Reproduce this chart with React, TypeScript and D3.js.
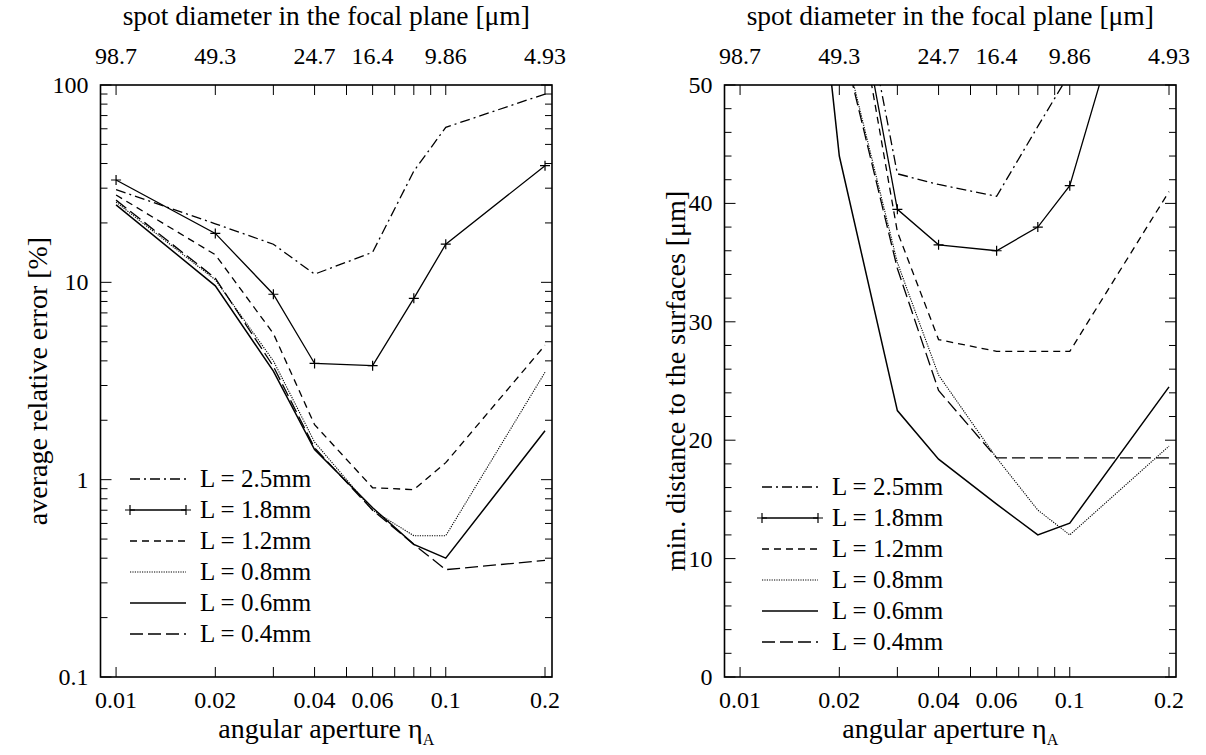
import React from "react";
import * as d3 from "d3";

// ---------- data ----------
const etas = [0.01, 0.02, 0.03, 0.04, 0.06, 0.08, 0.1, 0.2];
const seriesLabels = ["L = 2.5mm", "L = 1.8mm", "L = 1.2mm", "L = 0.8mm", "L = 0.6mm", "L = 0.4mm"];

// average relative error [%]
const err25 = [29.5, 19.8, 15.6, 11.0, 14.2, 36.6, 61, 90];
const err18 = [33, 17.7, 8.7, 3.88, 3.78, 8.3, 15.6, 39];
const err12 = [27.7, 13.8, 5.5, 1.9, 0.91, 0.89, 1.22, 4.8];
const err08 = [25.5, 10.3, 4.0, 1.55, 0.7, 0.52, 0.52, 3.5];
const err06 = [24.7, 9.6, 3.55, 1.42, 0.72, 0.47, 0.4, 1.77];
const err04 = [26.1, 10.5, 3.75, 1.45, 0.7, 0.47, 0.35, 0.39];

// min. distance to the surfaces [um]
const dist25 = [170, 68, 42.5, 41.6, 40.6, 46.5, 51, 80];
const dist18 = [160, 66, 39.5, 36.5, 36.0, 38.0, 41.5, 70];
const dist12 = [150, 65.6, 37.6, 28.5, 27.5, 27.5, 27.5, 41.0];
const dist08 = [138, 55, 35.0, 25.5, 18.5, 14.1, 12.0, 19.5];
const dist06 = [122, 44, 22.5, 18.4, 14.6, 12.0, 13.0, 24.5];
const dist04 = [140, 54.7, 34.5, 24.2, 18.5, 18.5, 18.5, 18.5];

const xTickVals = [0.01, 0.02, 0.03, 0.04, 0.05, 0.06, 0.07, 0.08, 0.09, 0.1, 0.2];
const xLabelVals = [0.01, 0.02, 0.04, 0.06, 0.1, 0.2];
const xLabels = ["0.01", "0.02", "0.04", "0.06", "0.1", "0.2"];
const topLabels = ["98.7", "49.3", "24.7", "16.4", "9.86", "4.93"];

const errMajor = [0.1, 1, 10, 100];
const errMajorLabels = ["0.1", "1", "10", "100"];
const distMajor = [0, 10, 20, 30, 40, 50];
const distMinor = [2, 4, 6, 8, 12, 14, 16, 18, 22, 24, 26, 28, 32, 34, 36, 38, 42, 44, 46, 48];

// ---------- styles ----------
const FONT = "'Liberation Serif', 'Times New Roman', serif";
const styles = [
  { dash: "10,4,2,4", w: 1.3, marker: false },
  { dash: null, w: 1.3, marker: true },
  { dash: "7,5", w: 1.3, marker: false },
  { dash: "1.2,1.2", w: 1.1, marker: false },
  { dash: null, w: 1.5, marker: false },
  { dash: "13,5", w: 1.3, marker: false },
];

const TOP = 85;
const BOTTOM = 677;
const W = 451.5;
const xDomain: [number, number] = [0.00897, 0.21];

function Plus({ x, y, s = 5 }: { x: number; y: number; s?: number }) {
  return (
    <path d={`M${x - s},${y}H${x + s}M${x},${y - s}V${y + s}`} stroke="#000" strokeWidth={1.2} fill="none" />
  );
}

function Panel(props: {
  left: number;
  yScale: any;
  series: number[][];
  yMajor: number[];
  yMajorLabels: string[];
  yMinor: number[];
  yTitle: string;
  yTitleX: number;
  legendX: number;
  legendY: number;
  id: string;
}) {
  const { left, yScale, series, yMajor, yMajorLabels, yMinor, yTitle, yTitleX, legendX, legendY, id } = props;
  const x = d3.scaleLog().domain(xDomain).range([left, left + W]);
  const right = left + W;
  const line = d3
    .line<[number, number]>()
    .x((d) => x(d[0]))
    .y((d) => yScale(d[1]));
  const cx = left + W / 2;
  const cy = (TOP + BOTTOM) / 2;
  return (
    <g>
      <defs>
        <clipPath id={id}>
          <rect x={left} y={TOP} width={W} height={BOTTOM - TOP} />
        </clipPath>
      </defs>
      {/* x ticks */}
      {xTickVals.map((v, i) => (
        <g key={"xt" + i}>
          <line x1={x(v)} x2={x(v)} y1={BOTTOM} y2={BOTTOM - 10} stroke="#000" strokeWidth={1} />
          <line x1={x(v)} x2={x(v)} y1={TOP} y2={TOP + 10} stroke="#000" strokeWidth={1} />
        </g>
      ))}
      {/* y ticks */}
      {yMajor.map((v, i) => (
        <g key={"ym" + i}>
          <line x1={left} x2={left + 11} y1={yScale(v)} y2={yScale(v)} stroke="#000" strokeWidth={1} />
          <line x1={right} x2={right - 11} y1={yScale(v)} y2={yScale(v)} stroke="#000" strokeWidth={1} />
        </g>
      ))}
      {yMinor.map((v, i) => (
        <g key={"yn" + i}>
          <line x1={left} x2={left + 7} y1={yScale(v)} y2={yScale(v)} stroke="#000" strokeWidth={1} />
          <line x1={right} x2={right - 7} y1={yScale(v)} y2={yScale(v)} stroke="#000" strokeWidth={1} />
        </g>
      ))}
      {/* data */}
      <g clipPath={`url(#${id})`}>
        {series.map((vals, si) => {
          const pts = etas.map((e, i) => [e, vals[i]] as [number, number]);
          const st = styles[si];
          return (
            <g key={"s" + si}>
              <path
                d={line(pts) || ""}
                fill="none"
                stroke="#000"
                strokeWidth={st.w}
                strokeDasharray={st.dash || undefined}
                strokeLinejoin="miter"
              />
              {st.marker && pts.map((p, i) => <Plus key={i} x={x(p[0])} y={yScale(p[1])} />)}
            </g>
          );
        })}
      </g>
      {/* frame */}
      <rect x={left} y={TOP} width={W} height={BOTTOM - TOP} fill="none" stroke="#000" strokeWidth={1.6} />
      {/* labels */}
      <g fontFamily={FONT} fontSize={24} fill="#000">
        {xLabelVals.map((v, i) => (
          <text key={"xl" + i} x={x(v)} y={708} textAnchor="middle">
            {xLabels[i]}
          </text>
        ))}
        {xLabelVals.map((v, i) => (
          <text key={"tl" + i} x={x(v)} y={64} textAnchor="middle">
            {topLabels[i]}
          </text>
        ))}
        {yMajor.map((v, i) => (
          <text key={"yl" + i} x={left - 12} y={yScale(v) + 8} textAnchor="end">
            {yMajorLabels[i]}
          </text>
        ))}
        <text x={cx} y={25} textAnchor="middle" fontSize={27.5}>
          spot diameter in the focal plane [μm]
        </text>
        <text x={cx} y={738} textAnchor="middle" fontSize={28}>
          angular aperture η<tspan fontSize={16} dy={7}>A</tspan>
        </text>
        <text transform={`translate(${yTitleX},${cy}) rotate(-90)`} textAnchor="middle" fontSize={28}>
          {yTitle}
        </text>
        {/* legend */}
        {seriesLabels.map((lab, i) => {
          const yy = legendY + i * 31;
          const st = styles[i];
          return (
            <g key={"lg" + i}>
              <line
                x1={legendX}
                x2={legendX + 56}
                y1={yy}
                y2={yy}
                stroke="#000"
                strokeWidth={st.w}
                strokeDasharray={st.dash || undefined}
              />
              {st.marker && (
                <>
                  <Plus x={legendX} y={yy} />
                  <Plus x={legendX + 56} y={yy} />
                </>
              )}
              <text x={legendX + 70} y={yy + 8} fontSize={25}>
                {lab}
              </text>
            </g>
          );
        })}
      </g>
    </g>
  );
}

export default function App() {
  const yErr = d3.scaleLog().domain([0.1, 100]).range([BOTTOM, TOP]);
  const yDist = d3.scaleLinear().domain([0, 50]).range([BOTTOM, TOP]);
  const errMinor: number[] = [];
  [0.1, 1, 10].forEach((d) => {
    for (let k = 2; k <= 9; k++) errMinor.push(k * d);
  });
  return (
    <svg
      width={1206}
      height={755}
      viewBox="0 0 1206 755"
      style={{ position: "absolute", left: 0, top: 0, background: "#fff" }}
    >
      <rect x={0} y={0} width={1206} height={755} fill="#fff" />
      <Panel
        id="clipL"
        left={100.5}
        yScale={yErr}
        series={[err25, err18, err12, err08, err06, err04]}
        yMajor={errMajor}
        yMajorLabels={errMajorLabels}
        yMinor={errMinor}
        yTitle="average relative error [%]"
        yTitleX={47}
        legendX={130}
        legendY={479}
      />
      <Panel
        id="clipR"
        left={724.5}
        yScale={yDist}
        series={[dist25, dist18, dist12, dist08, dist06, dist04]}
        yMajor={distMajor}
        yMajorLabels={distMajor.map(String)}
        yMinor={distMinor}
        yTitle="min. distance to the surfaces [μm]"
        yTitleX={685}
        legendX={762}
        legendY={487}
      />
    </svg>
  );
}
